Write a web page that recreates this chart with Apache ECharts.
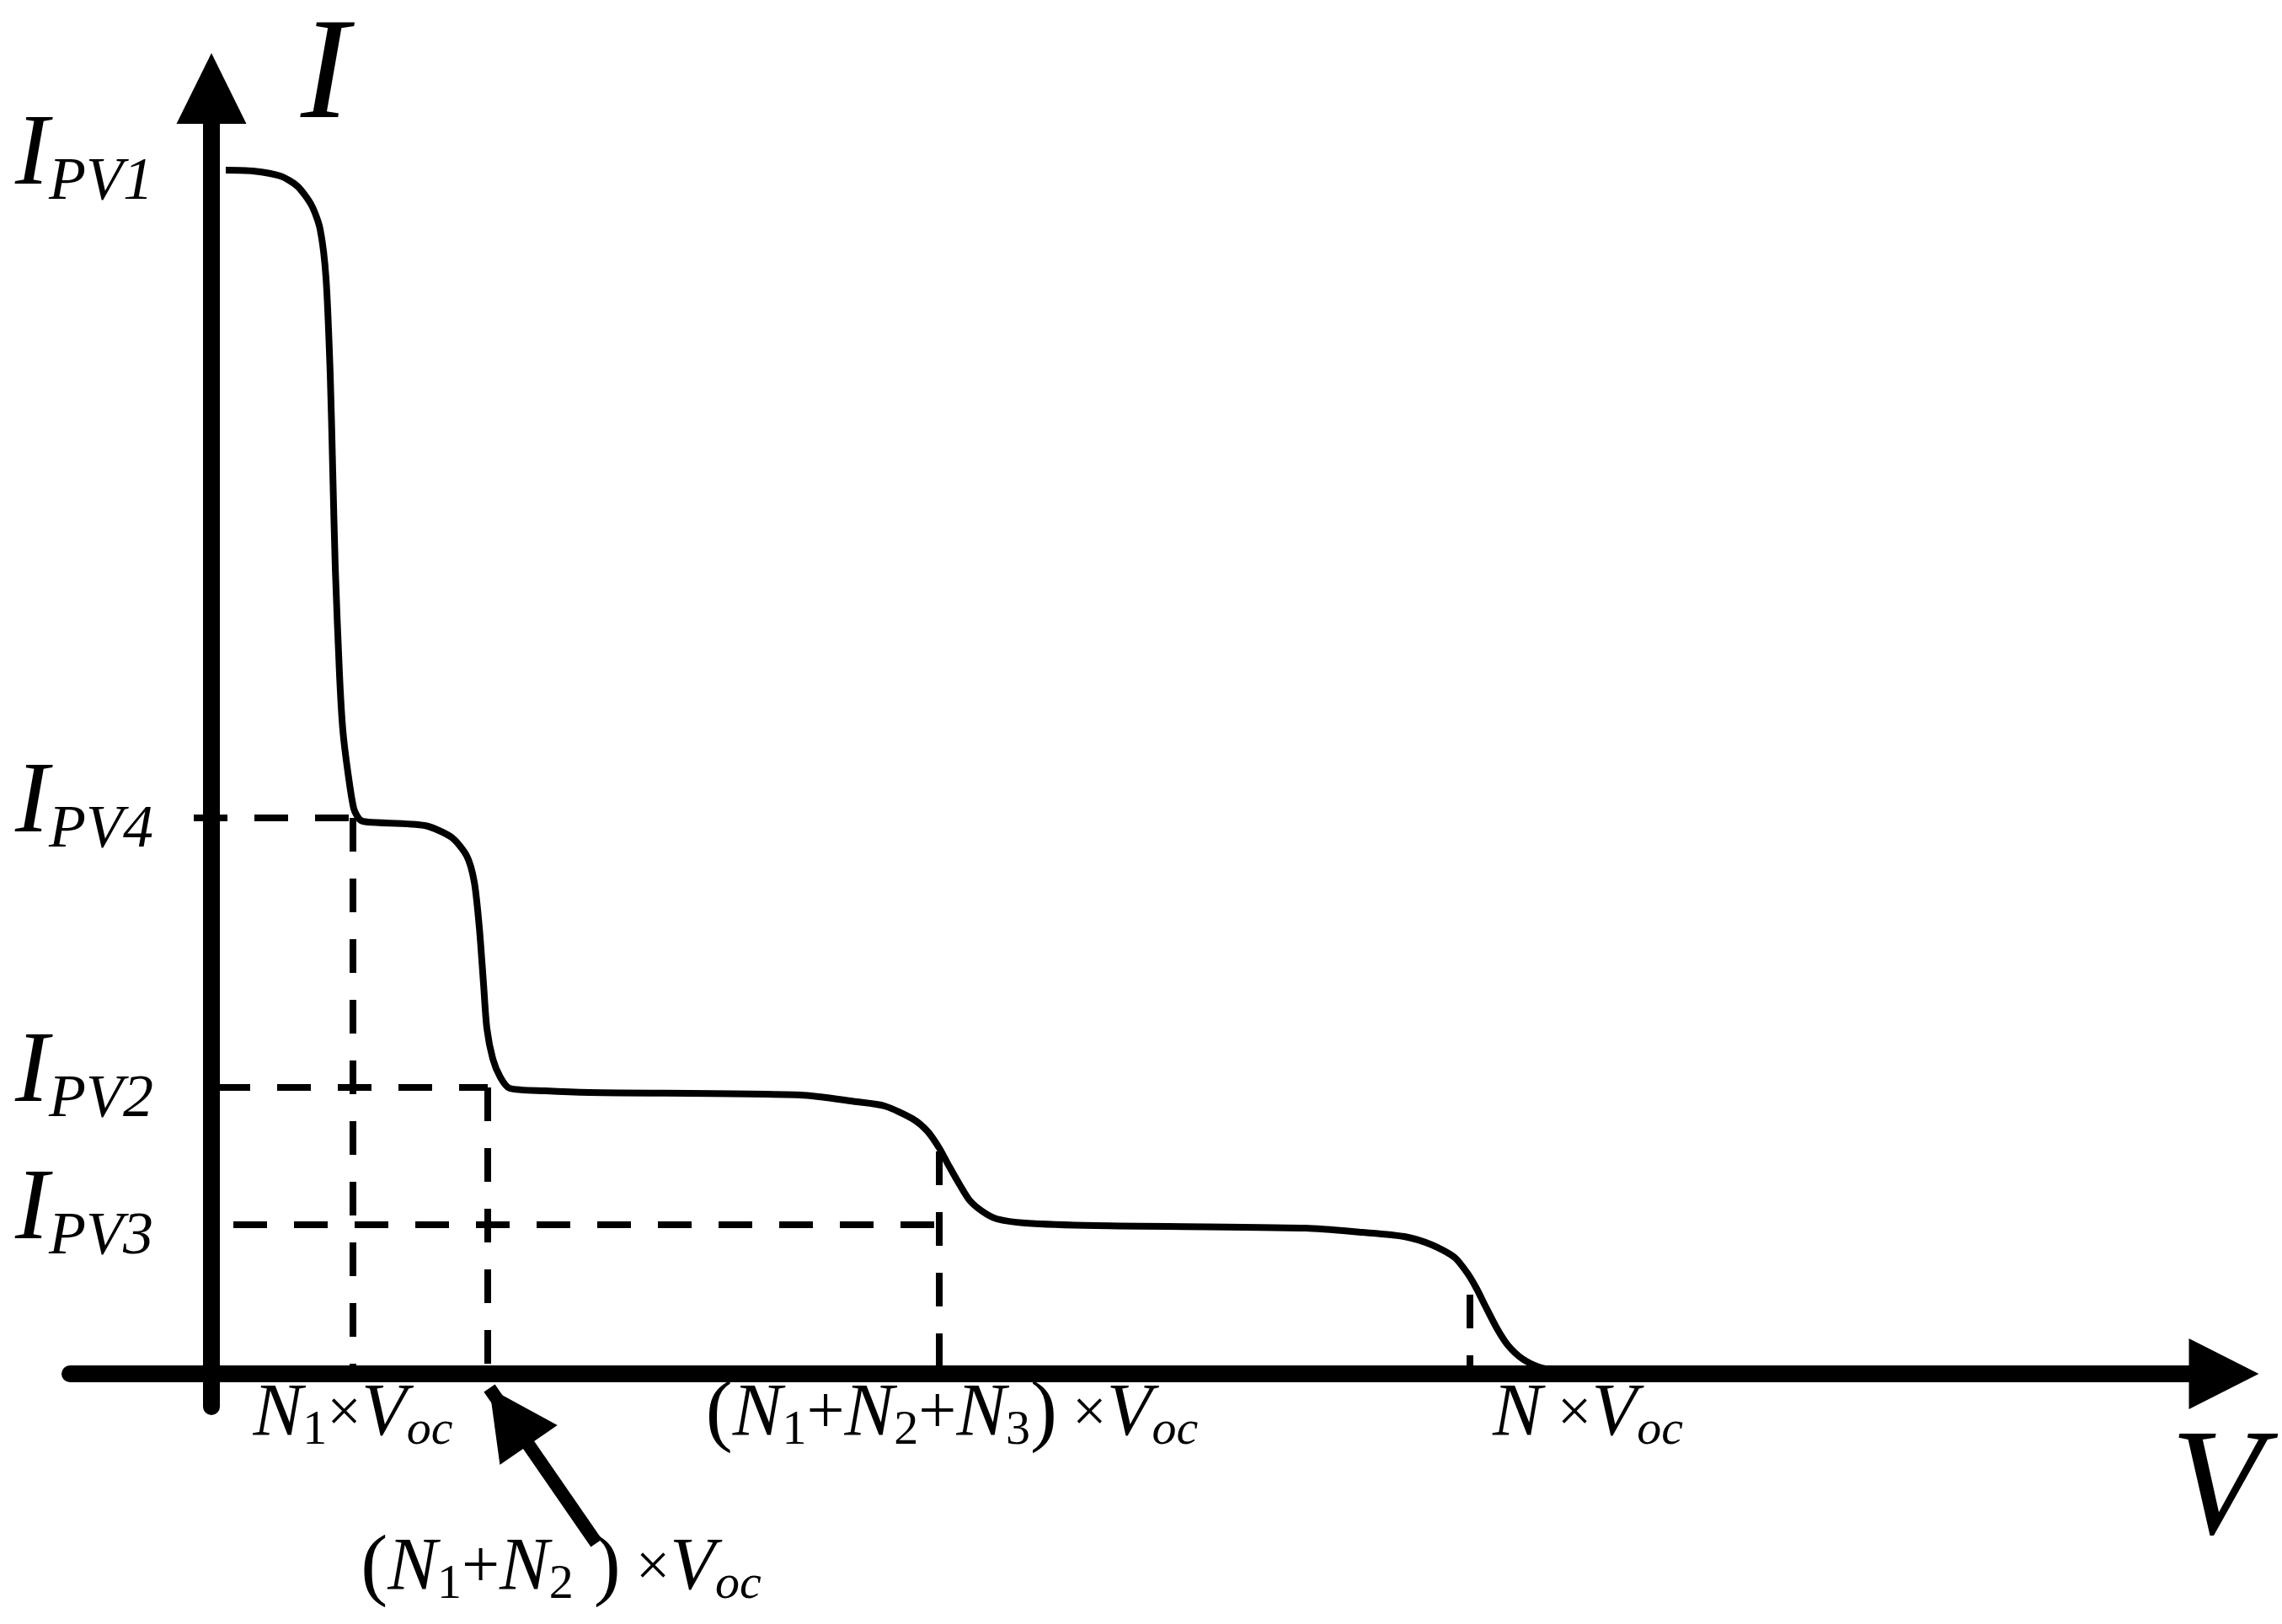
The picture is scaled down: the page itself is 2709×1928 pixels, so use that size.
<!DOCTYPE html>
<html>
<head>
<meta charset="utf-8">
<title>PV array I-V curve</title>
<script src="https://cdn.jsdelivr.net/npm/echarts@6/dist/echarts.min.js"></script>
<style>
  html, body { margin: 0; padding: 0; background: #fff; }
  #chart { width: 2709px; height: 1928px; }
</style>
</head>
<body>
<div id="chart"></div>
<script>
// voltage marks on V axis: N1, N1+N2, N1+N2+N3, N (times Voc)
const vMarks = [16.8, 32.8, 86.4, 149.4];
const vMarkLabels = [
  '{n|N}{s|1}{x|×}{n|V}{si|oc}',
  '{sp1| }{p|(}{n|N}{s|1}{o|+}{n|N}{s|2}{p| )}{x| ×}{n|V}{si|oc}',
  '{sp2| }{p|(}{n|N}{s|1}{o|+}{n|N}{s|2}{o|+}{n|N}{s|3}{p|)}{x| ×}{n|V}{si|oc}',
  '{sp3| }{n|N}{x| ×}{n|V}{si|oc}'
];
// current levels on I axis
const iLevels = [142.9, 66.0, 34.0, 17.7];
const iLevelNames = ['PV1', 'PV4', 'PV2', 'PV3'];
// dashed guides: where the vertical ones stop, where the horizontal ones start
const guideTops = [66.0, 34.0, 26.4, 9.4];
const guideStarts = [-2.1, 0.6, 2.6];

// the stepped I-V curve
const curveV = [1.7, 4.9, 8.2, 10.2, 11.9, 12.9, 13.6, 14.1, 14.4, 14.7, 15.2, 15.6, 16.2, 16.9, 17.6, 18.6,
  25.3, 28.5, 30.3, 31.2, 31.8, 32.3, 32.7, 33.4, 34.3, 35.4, 39.6, 44.9,
  69.9, 76.6, 79.9, 83.2, 85.0, 86.4, 87.6, 88.8, 90.0, 91.5, 93.2, 96.6, 104.9,
  129.9, 136.6, 141.6, 144.9, 147.6, 149.2, 150.2, 151.2, 152.6, 153.9, 155.6, 157.6, 159.9];
const curveI = [142.9, 142.8, 142.2, 141.0, 138.7, 135.9, 130.1, 118.7, 107.2, 95.7, 83.1, 76.4, 71.4, 67.1, 65.8, 65.5,
  65.1, 63.7, 61.5, 58.4, 53.0, 46.3, 41.0, 37.4, 35.2, 33.9, 33.6, 33.4,
  33.1, 32.3, 31.8, 30.3, 28.8, 26.8, 24.6, 22.5, 20.6, 19.3, 18.4, 17.9, 17.6,
  17.3, 16.8, 16.3, 15.3, 13.8, 11.8, 10.1, 8.1, 5.4, 3.4, 1.8, 0.8, 0.3];

// pointer arrow to (N1+N2)xVoc
const arrowTail = [45.7, -20.1];
const arrowTip = [33.0, -1.7];

const serif = 'Liberation Serif';
const black = '#000';

const dashed = { color: black, width: 8, type: [40, 32] };

function guideSeries(points) {
  return {
    type: 'line',
    data: points,
    showSymbol: false,
    symbol: 'none',
    lineStyle: dashed,
    z: 3,
    silent: true
  };
}

const guides = [];
// horizontal guides at IPV4, IPV2, IPV3
for (let k = 0; k < 3; k++) {
  guides.push(guideSeries([[guideStarts[k], iLevels[k + 1]], [vMarks[k], iLevels[k + 1]]]));
}
// vertical guides from the V axis up to the curve
for (let k = 0; k < vMarks.length; k++) {
  guides.push(guideSeries([[vMarks[k], guideTops[k]], [vMarks[k], 0]]));
}

const chart = echarts.init(document.getElementById('chart'), null, { renderer: 'canvas' });

chart.setOption({
  animation: false,
  backgroundColor: '#fff',
  grid: [
    { left: 83, right: 69, top: 105, bottom: 258, containLabel: false, outerBoundsMode: 'none' },
    // same scale, taller: only hosts the pointer arrow below the V axis
    { left: 83, right: 69, top: 105, bottom: 0, containLabel: false, outerBoundsMode: 'none' }
  ],
  xAxis: [{
    type: 'value',
    min: -16.8,
    max: 238.9,
    name: 'V',
    nameLocation: 'end',
    nameGap: -8,
    nameMoveOverlap: false,
    nameTextStyle: {
      fontFamily: serif, fontStyle: 'italic', fontSize: 180, color: black,
      align: 'center', verticalAlign: 'top', padding: [52, 0, 0, 0]
    },
    axisLine: {
      onZero: true,
      symbol: ['none', 'triangle'],
      symbolSize: [84, 83],
      lineStyle: { color: black, width: 20 }
    },
    axisTick: { show: false },
    splitLine: { show: false },
    axisLabel: {
      customValues: vMarks,
      margin: -34,
      formatter: function (val) {
        const k = vMarks.findIndex(v => Math.abs(v - val) < 1e-6);
        return k < 0 ? '' : vMarkLabels[k];
      },
      rich: {
        n: { fontFamily: serif, fontStyle: 'italic', fontSize: 88, height: 88, verticalAlign: 'bottom', color: black },
        si: { fontFamily: serif, fontStyle: 'italic', fontSize: 58, height: 50, verticalAlign: 'bottom', color: black },
        s: { fontFamily: serif, fontSize: 58, height: 50, verticalAlign: 'bottom', color: black },
        x: { fontFamily: serif, fontSize: 72, height: 88, verticalAlign: 'bottom', color: black },
        o: { fontFamily: serif, fontSize: 80, height: 88, verticalAlign: 'bottom', color: black },
        p: { fontFamily: serif, fontSize: 96, height: 88, verticalAlign: 'bottom', color: black },
        sp1: { width: 174, height: 271, fontSize: 10 },
        sp2: { width: 30, height: 88, fontSize: 10 },
        sp3: { width: 280, height: 88, fontSize: 10 }
      }
    }
  }, {
    type: 'value', gridIndex: 1, min: -16.8, max: 238.9, show: false
  }],
  yAxis: [{
    type: 'value',
    min: -3.9,
    max: 152.6,
    name: 'I',
    nameLocation: 'end',
    nameGap: 11,
    nameMoveOverlap: false,
    nameTextStyle: {
      fontFamily: serif, fontStyle: 'italic', fontSize: 172, color: black,
      align: 'left', verticalAlign: 'middle', padding: [0, 0, 0, 106]
    },
    axisLine: {
      onZero: true,
      symbol: ['none', 'triangle'],
      symbolSize: [83, 84],
      lineStyle: { color: black, width: 20 }
    },
    axisTick: { show: false },
    splitLine: { show: false },
    axisLabel: {
      customValues: iLevels,
      margin: -99,
      padding: [0, 0, 32, 0],
      formatter: function (val) {
        const k = iLevels.findIndex(v => Math.abs(v - val) < 1e-6);
        return k < 0 ? '' : '{m|I}{s|' + iLevelNames[k] + '}';
      },
      rich: {
        m: { fontFamily: serif, fontStyle: 'italic', fontSize: 120, height: 120, verticalAlign: 'bottom', color: black },
        s: { fontFamily: serif, fontStyle: 'italic', fontSize: 72, height: 58, verticalAlign: 'bottom', color: black }
      }
    }
  }, {
    type: 'value', gridIndex: 1, min: -29.7, max: 152.6, show: false
  }],
  series: [
    {
      type: 'line',
      data: curveV.map((v, i) => [v, curveI[i]]),
      showSymbol: false,
      symbol: 'none',
      smooth: 0.25,
      lineStyle: { color: black, width: 8, join: 'round' },
      z: 5,
      silent: true
    },
    ...guides,
    {
      type: 'line',
      xAxisIndex: 1,
      yAxisIndex: 1,
      data: [arrowTail, arrowTip],
      showSymbol: false,
      symbol: 'none',
      lineStyle: { opacity: 0 },
      silent: true,
      markLine: {
        silent: true,
        animation: false,
        symbol: ['none', 'triangle'],
        symbolSize: [83, 82],
        symbolOffset: [[0, 0], [0, 41]],
        label: { show: false },
        lineStyle: { color: black, width: 16, type: 'solid' },
        data: [[{ coord: arrowTail }, { coord: arrowTip }]]
      }
    }
  ]
});
</script>
</body>
</html>
